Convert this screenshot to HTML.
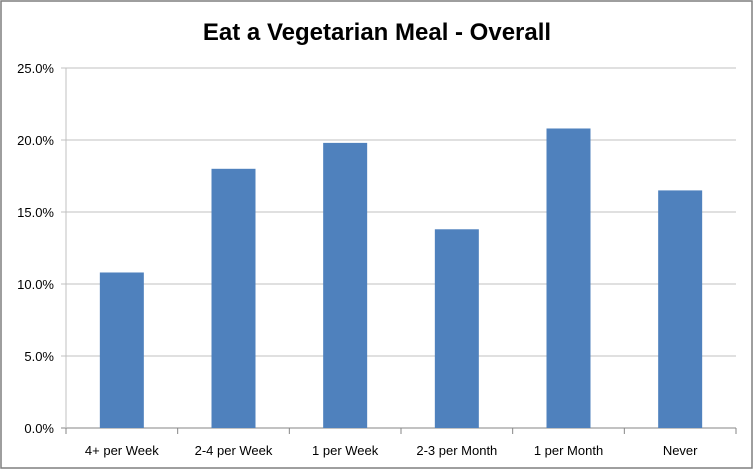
<!DOCTYPE html>
<html><head><meta charset="utf-8"><style>
body{margin:0;background:#fff;}
svg{display:block;font-family:"Liberation Sans",Calibri,sans-serif;}
</style></head><body>
<svg id="c" width="754" height="470">
<rect x="1" y="1" width="751" height="467" fill="#fff" stroke="#7f7f7f" stroke-width="1.5"/>
<text x="377" y="40" text-anchor="middle" font-size="24" font-weight="bold" fill="#000">Eat a Vegetarian Meal - Overall</text>
<g id="grid"></g><g id="bars"></g><g id="axes"></g>
</svg>
<script>
const categories=["4+ per Week","2-4 per Week","1 per Week","2-3 per Month","1 per Month","Never"];
const values=[10.8,18.0,19.8,13.8,20.8,16.5];
const ticks=[0,5,10,15,20,25];
const tickLabels=["0.0%","5.0%","10.0%","15.0%","20.0%","25.0%"];
const NS="http://www.w3.org/2000/svg";
const L=66,R=736,T=68,B=428,maxV=25;
const y=v=>B-(v/maxV)*(B-T);
const band=(R-L)/categories.length;
const x=i=>L+band*i;
function mk(tag,attrs,parent,text){const e=document.createElementNS(NS,tag);for(const k in attrs)e.setAttribute(k,attrs[k]);if(text!==undefined)e.textContent=text;document.getElementById(parent).appendChild(e);return e;}
ticks.forEach((t,i)=>{
 const g=mk('line',{x1:L-5,x2:R,y1:y(t),y2:y(t),stroke:t===0?'#868686':'#c0c0c0','stroke-width':1},'grid');
 
 
 const lb=mk('text',{x:L-12,y:y(t)+5,'text-anchor':'end','font-size':13,fill:'#000'},'axes',tickLabels[i]);
 
 
});
const ya=mk('line',{x1:L,x2:L,y1:T,y2:B,stroke:'#c0c0c0'},'axes');


const bw=44;
values.forEach((v,i)=>{
 const cx=x(i)+band/2;
 const b=mk('rect',{x:cx-bw/2,y:y(v),width:bw,height:B-y(v),fill:'#4f81bd'},'bars');
 
 
 const lb=mk('text',{x:cx,y:455,'text-anchor':'middle','font-size':13,fill:'#000'},'axes',categories[i]);
 
 
});
for(let i=0;i<=categories.length;i++){
 const t=mk('line',{x1:x(i),x2:x(i),y1:B,y2:B+6,stroke:'#868686'},'axes');
 
 
}
</script>
</body></html>
